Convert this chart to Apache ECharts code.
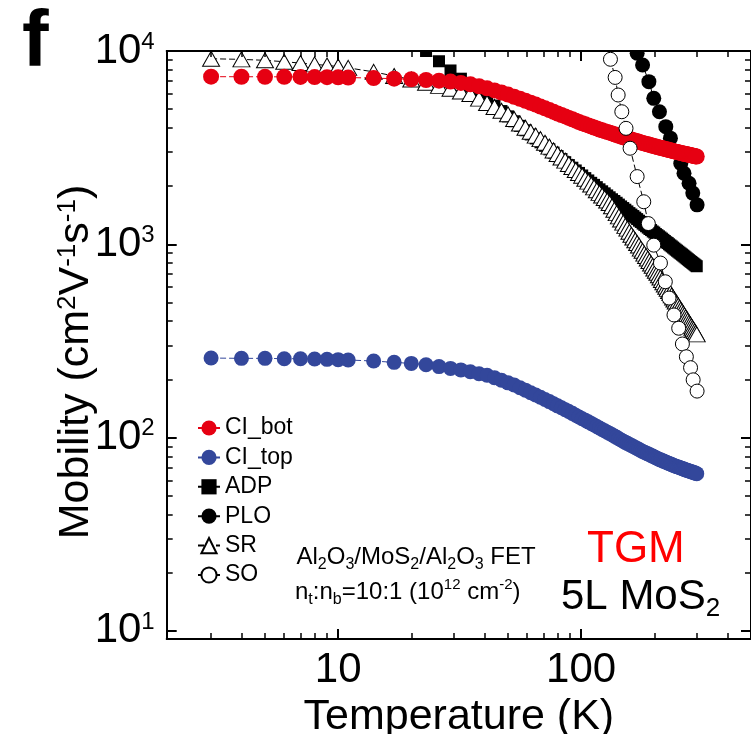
<!DOCTYPE html>
<html>
<head>
<meta charset="utf-8">
<script src="https://cdn.jsdelivr.net/npm/echarts@6/dist/echarts.min.js"></script>
<style>
  html, body { margin: 0; padding: 0; background: #fff; }
  #chart { width: 751px; height: 734px; }
</style>
</head>
<body>
<div id="chart"></div>
<script>
// Temperature grid (K) shared by the dense series
const temps = [3,4,5,6,7,8,9,10,11,14,17,20,23,26,29,32,35,38,41,44,47,50,53,56,59,62,65,68,71,74,77,80,83,86,89,92,95,98,101,104,107,110,113,116,119,122,125,128,131,134,137,140,143,146,149,152,155,158,161,164,167,170,173,176,179,182,185,188,191,194,197,200,203,206,209,212,215,218,221,224,227,230,233,236,239,242,245,248,251,254,257,260,263,266,269,272,275,278,281,284,287,290,293,296,299];

// Coulomb impurity, bottom interface (cm^2/Vs)
const ciBot = [7365,7360,7355,7350,7340,7330,7320,7305,7290,
  7240,7190,7140,7080,7020,6950,6840,6730,6570,6410,6250,6100,5950,5800,5660,5530,5400,5280,5160,5050,4950,4845,4750,4665,4585,4505,4435,4360,4290,4230,4175,4120,4070,4020,3975,3925,3885,3850,3815,3780,3745,3710,3675,3645,3610,3580,3555,3530,3505,3480,3455,3435,3410,3390,3365,3345,3325,3305,3290,3270,3255,3235,3220,3205,3185,3170,3155,3145,3130,3115,3100,3090,3075,3065,3050,3035,3025,3015,3005,2995,2980,2970,2960,2950,2940,2930,2920,2915,2905,2895,2885,2875,2870,2860,2850,2845];

// Coulomb impurity, top interface
const ciTop = [258,257,257,256,256,255,254,253,252,
  249,245,242,238,233,228,224,219,214,210,204,198,192,187,181,176,170.5,166,161.7,157.5,153.5,149.7,146,142.7,139.5,136.4,133.5,130.6,127.8,125.2,122.9,120.6,118.4,116.2,114.1,112.1,110.2,108.5,106.7,105.1,103.4,101.8,100.3,98.7,97.2,95.8,94.5,93.4,92.2,91.1,90.0,88.9,87.9,86.8,85.8,84.8,84.0,83.2,82.4,81.7,80.9,80.2,79.4,78.7,78.0,77.3,76.7,76.2,75.6,75.1,74.5,74.0,73.5,73.0,72.5,72.0,71.5,71.1,70.7,70.4,70.0,69.6,69.2,68.9,68.5,68.1,67.8,67.5,67.2,66.9,66.6,66.3,66.0,65.7,65.4,65.1];

// Surface roughness
const srVals = [9120,9050,8950,8800,8660,8530,8420,8320,8180,
  7800,7420,7120,6850,6600,6380,6170,5990,5670,5380,5130,4910,4710,4450,4220,4010,3820,3650,3500,3350,3200,3060,2930,2810,2710,2605,2510,2425,2340,2265,2185,2110,2040,1970,1905,1845,1790,1735,1685,1635,1575,1510,1450,1395,1345,1295,1245,1205,1160,1120,1085,1050,1015,985,950,925,895,870,845,820,795,775,750,730,712,692,673,654,637,620,603,588,573,559,545,531,518,506,494,482,471,460,450,440,430,421,412,403,394,386,378,370,363,356,349,342];

// Acoustic deformation potential (from 20 K upward)
const adpTemps = temps.slice(11);
const adpVals = [11500,10000,8850,7930,7190,6570,6050,5610,5220,4890,4590,4330,4100,3890,3700,3530,3370,3230,3100,2980,2860,2760,2660,2570,2490,2410,2340,2270,2200,2140,2080,2030,1975,1925,1880,1835,1790,1750,1710,1675,1640,1605,1570,1540,1510,1480,1450,1425,1400,1375,1350,1325,1305,1280,1260,1240,1220,1200,1185,1165,1150,1130,1115,1100,1085,1070,1055,1040,1025,1015,1000,987,975,962,950,938,927,916,905,895,885,875,865,855,845,836,827,818,810,801,793,785,777,770];

// Polar longitudinal optical phonon
const ploTemps = [170,179,190,199,210,223,233,246,257,265,278,288,300];
const ploVals  = [9730,8470,6940,5690,4850,4060,3540,3010,2620,2330,2070,1840,1600];

// Surface optical phonon
const soTemps = [132,138,142,147,153,159,170,181,189,199,212,222,230,241,252,261,271,282,289,300];
const soVals  = [9060,7300,5920,4850,3980,3140,2240,1660,1280,990,800,640,527,431,368,305,262,230,199,174];

// Axis ticks
const xMajor = [10, 100];
const xMinor = [3,4,5,6,7,8,9,20,30,40,50,60,70,80,90,200,300,400];
const yMajor = [10, 100, 1000, 10000];
const yMinor = [20,30,40,50,60,70,80,90,200,300,400,500,600,700,800,900,2000,3000,4000,5000,6000,7000,8000,9000];

const X_MIN = 1.97, X_MAX = 500;
const Y_MIN = 9.08, Y_MAX = 10000;

const FONT = '"Liberation Sans", Arial, Helvetica, sans-serif';
const RED = '#e60012';
const BLUE = '#33479b';

const pair = (xs, ys) => xs.map((x, i) => [x, ys[i]]);

function xAxisDef(pos, ticks, len, major) {
  return {
    type: 'log', logBase: 10, position: pos, min: X_MIN, max: X_MAX, z: 10,
    axisLine: { show: major, lineStyle: { color: '#000', width: 2 } },
    axisTick: { show: true, inside: true, length: len, customValues: ticks,
                lineStyle: { color: '#000', width: major ? 2 : 1.5 } },
    axisLabel: (major && pos === 'bottom') ? {
      show: true, customValues: xMajor, margin: 10, color: '#000',
      fontSize: 42, fontFamily: FONT,
      formatter: v => String(Math.round(v))
    } : { show: false },
    splitLine: { show: false }
  };
}

function yAxisDef(pos, ticks, len, major) {
  return {
    type: 'log', logBase: 10, position: pos, min: Y_MIN, max: Y_MAX, z: 10,
    axisLine: { show: major, lineStyle: { color: '#000', width: 2 } },
    axisTick: { show: true, inside: true, length: len, customValues: ticks,
                lineStyle: { color: '#000', width: major ? 2 : 1.5 } },
    axisLabel: (major && pos === 'left') ? {
      show: true, customValues: yMajor, margin: 12,
      formatter: v => '{m|10}{s|' + Math.round(Math.log10(v)) + '}',
      rich: {
        m: { fontSize: 42, lineHeight: 42, fontFamily: FONT, color: '#000', verticalAlign: 'middle' },
        s: { fontSize: 24, lineHeight: 17, fontFamily: FONT, color: '#000', verticalAlign: 'top' }
      }
    } : { show: false },
    splitLine: { show: false }
  };
}

const xAxes = [
  xAxisDef('bottom', xMajor, 10, true),
  xAxisDef('bottom', xMinor, 6, false),
  xAxisDef('top', xMajor, 10, true),
  xAxisDef('top', xMinor, 6, false)
];
xAxes[0].name = 'Temperature (K)';
xAxes[0].nameLocation = 'middle';
xAxes[0].nameGap = 53;
xAxes[0].nameTextStyle = { fontSize: 43, fontFamily: FONT, color: '#000' };

const yAxes = [
  yAxisDef('left', yMajor, 10, true),
  yAxisDef('left', yMinor, 6, false),
  yAxisDef('right', yMajor, 10, true),
  yAxisDef('right', yMinor, 6, false)
];

const dash = [6, 3];
function lineSeries(name, data, symbol, size, fill, stroke, lineColor) {
  return {
    name, type: 'line', data, xAxisIndex: 0, yAxisIndex: 0,
    symbol, symbolSize: size, showAllSymbol: true, smooth: false,
    lineStyle: { color: lineColor, width: 1, type: dash },
    itemStyle: { color: fill, borderColor: stroke, borderWidth: stroke ? 1 : 0 },
    emphasis: { disabled: true },
    clip: true
  };
}

// Draw order: ADP and PLO underneath, SR, then the CI curves, SO on top
const series = [
  lineSeries('ADP', pair(adpTemps, adpVals), 'rect', 12, '#000', null, '#000'),
  lineSeries('PLO', pair(ploTemps, ploVals), 'circle', 15, '#000', null, '#000'),
  lineSeries('SR', pair(temps, srVals), 'triangle', [17, 15], '#fff', '#000', '#000'),
  lineSeries('CI_bot', pair(temps, ciBot), 'circle', 16, RED, null, RED),
  lineSeries('CI_top', pair(temps, ciTop), 'circle', 15, BLUE, null, BLUE),
  lineSeries('SO', pair(soTemps, soVals), 'circle', 14, '#fff', '#000', '#000')
];

const chart = echarts.init(document.getElementById('chart'), null, { renderer: 'canvas' });
chart.setOption({
  animation: false,
  backgroundColor: '#fff',
  textStyle: { fontFamily: FONT },
  grid: { left: 166.7, top: 51, right: 0, bottom: 95, containLabel: false, outerBoundsMode: 'none' },
  xAxis: xAxes,
  yAxis: yAxes,
  legend: {
    data: ['CI_bot', 'CI_top', 'ADP', 'PLO', 'SR', 'SO'],
    orient: 'vertical', left: 197, top: 416.5, padding: 0,
    itemWidth: 22, itemHeight: 19, itemGap: 6.4,
    selectedMode: false,
    textStyle: { fontSize: 23, lineHeight: 19, fontFamily: FONT, color: '#000' }
  },
  series,
  graphic: [
    // masks marker overflow above the plot frame
    { type: 'rect', z: 5, silent: true, shape: { x: 168, y: 0, width: 583, height: 50 }, style: { fill: '#fff' } },
    { type: 'text', x: 22, y: 44.3, z: 20, style: {
        text: 'f', fontSize: 80, fontWeight: 'bold', fontFamily: FONT, fill: '#000',
        align: 'left', verticalAlign: 'middle' } },
    { type: 'text', x: 76, y: 362, rotation: Math.PI / 2, z: 20, style: {
        text: 'Mobility (cm{s|2}V{s|-1}s{s|-1})',
        fontSize: 43, lineHeight: 43, fontFamily: FONT, fill: '#000',
        align: 'center', verticalAlign: 'middle',
        rich: { s: { fontSize: 26, lineHeight: 18, fontFamily: FONT, fill: '#000', verticalAlign: 'top' } } } },
    { type: 'text', x: 296.5, y: 557.7, z: 20, style: {
        text: 'Al{b|2}O{b|3}/MoS{b|2}/Al{b|2}O{b|3} FET',
        fontSize: 24, lineHeight: 30, fontFamily: FONT, fill: '#000',
        align: 'left', verticalAlign: 'middle',
        rich: { b: { fontSize: 16, lineHeight: 20, fontFamily: FONT, fill: '#000', verticalAlign: 'bottom' } } } },
    { type: 'text', x: 295, y: 592.7, z: 20, style: {
        text: 'n{b|t}:n{b|b}=10:1 (10{p|12} cm{p|-2})',
        fontSize: 24, lineHeight: 30, fontFamily: FONT, fill: '#000',
        align: 'left', verticalAlign: 'middle',
        rich: {
          b: { fontSize: 16, lineHeight: 20, fontFamily: FONT, fill: '#000', verticalAlign: 'bottom' },
          p: { fontSize: 15, lineHeight: 25, fontFamily: FONT, fill: '#000', verticalAlign: 'top' }
        } } },
    { type: 'text', x: 587, y: 549.8, z: 20, style: {
        text: 'TGM', fontSize: 44, fontFamily: FONT, fill: '#ff0000',
        align: 'left', verticalAlign: 'middle' } },
    { type: 'text', x: 561, y: 597.2, z: 20, style: {
        text: '5L MoS{b|2}', fontSize: 42, lineHeight: 50, fontFamily: FONT, fill: '#000',
        align: 'left', verticalAlign: 'middle',
        rich: { b: { fontSize: 26, lineHeight: 23, fontFamily: FONT, fill: '#000', verticalAlign: 'bottom' } } } }
  ]
});
</script>
</body>
</html>
